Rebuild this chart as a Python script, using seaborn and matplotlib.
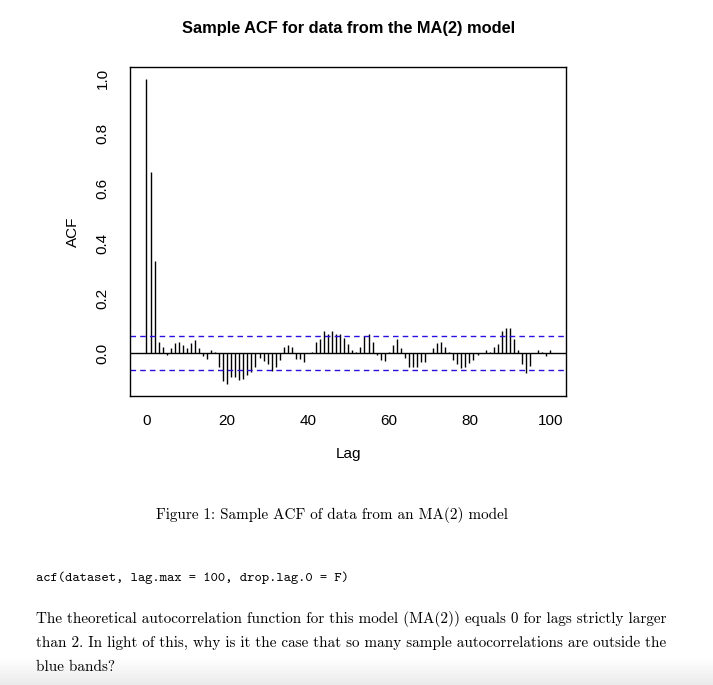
import numpy as np
import pandas as pd
import seaborn as sns
import matplotlib.pyplot as plt

# sample ACF, lags 0..100
lags = list(range(101))
acf_values = [
    1.000, 0.659, 0.337, 0.043, 0.025, -0.005, 0.018, 0.037, 0.043, 0.029,
    0.021, 0.037, 0.048, 0.018, -0.011, -0.022, 0.011, 0.005, -0.051, -0.100,
    -0.111, -0.086, -0.086, -0.097, -0.093, -0.079, -0.068, -0.051, -0.018, -0.029,
    -0.040, -0.065, -0.050, -0.024, 0.025, 0.029, 0.022, -0.021, -0.021, -0.031,
    0.000, 0.005, 0.043, 0.054, 0.080, 0.072, 0.080, 0.069, 0.069, 0.058,
    0.036, 0.014, 0.007, 0.025, 0.062, 0.069, 0.043, -0.006, -0.024, -0.028,
    0.004, 0.029, 0.051, 0.018, -0.017, -0.051, -0.051, -0.051, -0.031, -0.031,
    0.000, 0.018, 0.037, 0.043, 0.025, 0.007, -0.024, -0.039, -0.053, -0.050,
    -0.035, -0.024, -0.006, 0.000, 0.014, 0.007, 0.022, 0.036, 0.083, 0.094,
    0.094, 0.054, 0.014, -0.039, -0.071, -0.046, 0.000, 0.014, 0.004, -0.010,
    0.011,
]
conf_band = 0.062
df = pd.DataFrame({'lag': lags, 'acf': acf_values})

sns.set_style('white')
plt.rcParams['font.family'] = ['Liberation Sans', 'DejaVu Sans']
plt.rcParams['text.color'] = 'black'
plt.rcParams['axes.labelcolor'] = 'black'
plt.rcParams['xtick.color'] = 'black'
plt.rcParams['ytick.color'] = 'black'

fig = plt.figure(figsize=(7.13, 6.85), dpi=100)
ax = fig.add_axes([0.1828, 0.4219, 0.6115, 0.4807])

ax.vlines(df['lag'], 0, df['acf'], color='black', linewidth=1.0)
ax.axhline(0, color='black', linewidth=1.0)
for c in (conf_band, -conf_band):
    ax.axhline(c, color='#2a10e0', linewidth=1.0, linestyle=(0, (4, 3)))

ax.set_xlim(-4, 104)
ax.set_ylim(-0.155, 1.044)
ax.set_xticks([0, 20, 40, 60, 80, 100])
ax.set_yticks([0.0, 0.2, 0.4, 0.6, 0.8, 1.0])
ax.set_yticklabels(['0.0', '0.2', '0.4', '0.6', '0.8', '1.0'], rotation=90, va='center')
ax.tick_params(axis='both', direction='out', length=6, width=1, labelsize=11, pad=7)
ax.tick_params(axis='y', pad=9)
for s in ax.spines.values():
    s.set_color('black')
    s.set_linewidth(1)
ax.set_xlabel('Lag', fontsize=11, labelpad=14)
ax.set_ylabel('ACF', fontsize=11, labelpad=11)
ax.set_title('Sample ACF for data from the MA(2) model', fontsize=11.8,
             fontweight='bold', pad=24)

# document text around the figure
fig.text(332 / 713, 1 - 515 / 685, 'Figure 1: Sample ACF of data from an MA(2) model',
         family='cmr10', fontsize=10.9, ha='center', va='center')
fig.text(36 / 713, 1 - 578 / 685, 'acf(dataset, lag.max = 100, drop.lag.0 = F)',
         family='cmtt10', fontsize=10.0, ha='left', va='center')
lines = [
    'The theoretical autocorrelation function for this model (MA(2)) equals 0 for lags strictly larger',
    'than 2. In light of this, why is it the case that so many sample autocorrelations are outside the',
    'blue bands?',
]
for i, t in enumerate(lines):
    fig.text(36 / 713, 1 - (619 + 24 * i) / 685, t, family='cmr10', fontsize=10.9,
             ha='left', va='center')

# soft grey shade along the bottom edge
shade = fig.add_axes([0, 0, 1, 28 / 685], zorder=-1)
shade.imshow(np.linspace(1.0, 0.92, 50).reshape(-1, 1) * np.ones((1, 10)),
             cmap='gray', vmin=0, vmax=1, aspect='auto', extent=(0, 1, 0, 1))
shade.axis('off')

fig.savefig('out.png', dpi=100)
